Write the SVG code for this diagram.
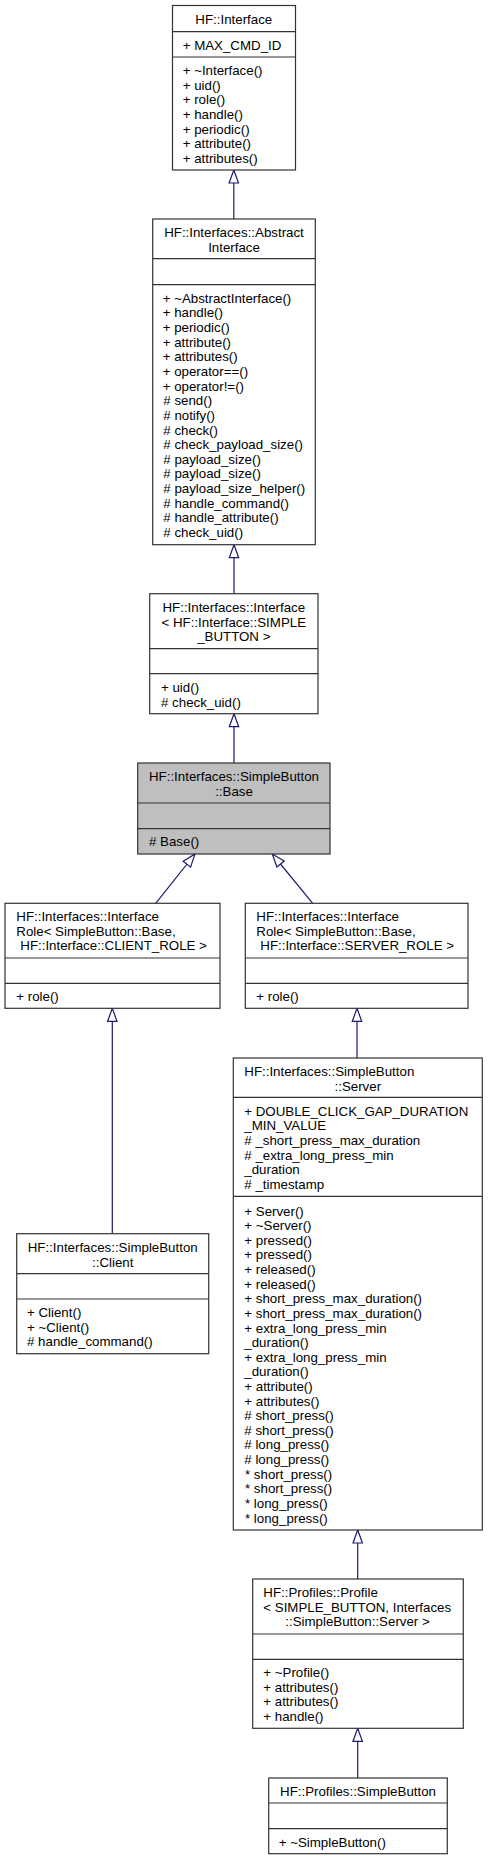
<svg xmlns="http://www.w3.org/2000/svg" width="488" height="1860" viewBox="0 0 488 1860">
<style>
.bg{fill:#ffffff}
.box{fill:#ffffff;stroke:#333333;stroke-width:1.2}
.hl{fill:#bfbfbf;stroke:#333333;stroke-width:1.2}
.sep{stroke:#333333;stroke-width:1.2}
text{font-family:"Liberation Sans",Arial,Helvetica,sans-serif;font-size:13.3px;fill:#000000}
.c{text-anchor:middle}
.edge{fill:none;stroke:#191970;stroke-width:1.2}
</style>
<defs>
<marker id="inh" markerUnits="userSpaceOnUse" markerWidth="15" markerHeight="12" refX="13.5" refY="5.5" orient="auto" viewBox="-0.5 0.3 15 10.4">
<path d="M0.5,0.8 L13.5,5.5 L0.5,10.2 Z" fill="#ffffff" stroke="#191970" stroke-width="1.2"/>
</marker>
</defs>
<rect class="bg" x="0" y="0" width="488" height="1860"/>

<g id="connectors">
<path class="edge" d="M233.8,219 L233.8,170" marker-end="url(#inh)"/>
<path class="edge" d="M234,593.7 L234,544.7" marker-end="url(#inh)"/>
<path class="edge" d="M234,763 L234,713.7" marker-end="url(#inh)"/>
<path class="edge" d="M155.7,903.3 L195,854" marker-end="url(#inh)"/>
<path class="edge" d="M312.7,903.3 L272.3,854" marker-end="url(#inh)"/>
<path class="edge" d="M112.3,1233.7 L112.3,1008.3" marker-end="url(#inh)"/>
<path class="edge" d="M357,1058 L357,1008.3" marker-end="url(#inh)"/>
<path class="edge" d="M357.7,1579 L357.7,1530" marker-end="url(#inh)"/>
<path class="edge" d="M357.7,1778 L357.7,1728.3" marker-end="url(#inh)"/>
</g>

<g id="node-interface">
<rect class="box" x="172.5" y="5.5" width="123" height="164.5"/>
<line class="sep" x1="172.5" y1="31.7" x2="295.5" y2="31.7"/>
<line class="sep" x1="172.5" y1="57" x2="295.5" y2="57"/>
<text class="c" x="233.8" y="23.8">HF::Interface</text>
<text x="182.7" y="49.5">+ MAX_CMD_ID</text>
<text x="182.7" y="75.2">+ ~Interface()</text>
<text x="182.7" y="89.8">+ uid()</text>
<text x="182.7" y="104.4">+ role()</text>
<text x="182.7" y="119">+ handle()</text>
<text x="182.7" y="133.6">+ periodic()</text>
<text x="182.7" y="148.2">+ attribute()</text>
<text x="182.7" y="162.8">+ attributes()</text>
</g>

<g id="node-abstract">
<rect class="box" x="152.7" y="219" width="162.6" height="325.7"/>
<line class="sep" x1="152.7" y1="258.7" x2="315.3" y2="258.7"/>
<line class="sep" x1="152.7" y1="284.7" x2="315.3" y2="284.7"/>
<text class="c" x="234" y="236.8">HF::Interfaces::Abstract</text>
<text class="c" x="234" y="251.6">Interface</text>
<text x="162.7" y="302.8">+ ~AbstractInterface()</text>
<text x="162.7" y="317.4">+ handle()</text>
<text x="162.7" y="332.1">+ periodic()</text>
<text x="162.7" y="346.7">+ attribute()</text>
<text x="162.7" y="361.3">+ attributes()</text>
<text x="162.7" y="376">+ operator==()</text>
<text x="162.7" y="390.6">+ operator!=()</text>
<text x="163.3" y="405.2"># send()</text>
<text x="163.3" y="419.8"># notify()</text>
<text x="163.3" y="434.5"># check()</text>
<text x="163.3" y="449.1"># check_payload_size()</text>
<text x="163.3" y="463.7"># payload_size()</text>
<text x="163.3" y="478.4"># payload_size()</text>
<text x="163.3" y="493"># payload_size_helper()</text>
<text x="163.3" y="507.6"># handle_command()</text>
<text x="163.3" y="522.3"># handle_attribute()</text>
<text x="163.3" y="536.9"># check_uid()</text>
</g>

<g id="node-interface-simple-button">
<rect class="box" x="149.7" y="593.7" width="168.3" height="120"/>
<line class="sep" x1="149.7" y1="648.7" x2="318" y2="648.7"/>
<line class="sep" x1="149.7" y1="673.7" x2="318" y2="673.7"/>
<text class="c" x="233.8" y="612.2">HF::Interfaces::Interface</text>
<text class="c" x="233.8" y="626.8">&lt; HF::Interface::SIMPLE</text>
<text class="c" x="233.8" y="641.4">_BUTTON &gt;</text>
<text x="161" y="692.2">+ uid()</text>
<text x="161" y="706.8"># check_uid()</text>
</g>

<g id="node-base">
<rect class="hl" x="137.7" y="763" width="192.3" height="91"/>
<line class="sep" x1="137.7" y1="803" x2="330" y2="803"/>
<line class="sep" x1="137.7" y1="828.7" x2="330" y2="828.7"/>
<text class="c" x="234" y="781.3">HF::Interfaces::SimpleButton</text>
<text class="c" x="234" y="796">::Base</text>
<text x="149" y="846"># Base()</text>
</g>

<g id="node-client-role">
<rect class="box" x="5" y="903.3" width="215" height="105"/>
<line class="sep" x1="5" y1="958" x2="220" y2="958"/>
<line class="sep" x1="5" y1="983.3" x2="220" y2="983.3"/>
<text x="16.3" y="920.8">HF::Interfaces::Interface</text>
<text x="16.3" y="935.6">Role&lt; SimpleButton::Base,</text>
<text x="20.3" y="950.4">HF::Interface::CLIENT_ROLE &gt;</text>
<text x="16.3" y="1001.2">+ role()</text>
</g>

<g id="node-server-role">
<rect class="box" x="245.3" y="903.3" width="222.7" height="105"/>
<line class="sep" x1="245.3" y1="958" x2="468" y2="958"/>
<line class="sep" x1="245.3" y1="983.3" x2="468" y2="983.3"/>
<text x="256.3" y="920.8">HF::Interfaces::Interface</text>
<text x="256.3" y="935.6">Role&lt; SimpleButton::Base,</text>
<text x="260.3" y="950.4">HF::Interface::SERVER_ROLE &gt;</text>
<text x="256.3" y="1001.2">+ role()</text>
</g>

<g id="node-client">
<rect class="box" x="16.7" y="1233.7" width="192" height="120"/>
<line class="sep" x1="16.7" y1="1273.7" x2="208.7" y2="1273.7"/>
<line class="sep" x1="16.7" y1="1299" x2="208.7" y2="1299"/>
<text class="c" x="112.7" y="1252.2">HF::Interfaces::SimpleButton</text>
<text class="c" x="112.7" y="1266.8">::Client</text>
<text x="27" y="1317.2">+ Client()</text>
<text x="27" y="1331.8">+ ~Client()</text>
<text x="27" y="1346.4"># handle_command()</text>
</g>

<g id="node-server">
<rect class="box" x="233.3" y="1058" width="249" height="472"/>
<line class="sep" x1="233.3" y1="1097.3" x2="482.3" y2="1097.3"/>
<line class="sep" x1="233.3" y1="1196.3" x2="482.3" y2="1196.3"/>
<text x="244.3" y="1076.2">HF::Interfaces::SimpleButton</text>
<text class="c" x="357.8" y="1090.8">::Server</text>
<text x="244.3" y="1115.8">+ DOUBLE_CLICK_GAP_DURATION</text>
<text x="244.3" y="1130.4">_MIN_VALUE</text>
<text x="244.3" y="1145"># _short_press_max_duration</text>
<text x="244.3" y="1159.6"># _extra_long_press_min</text>
<text x="244.3" y="1174.2">_duration</text>
<text x="244.3" y="1188.8"># _timestamp</text>
<text x="244.3" y="1215.5">+ Server()</text>
<text x="244.3" y="1230.1">+ ~Server()</text>
<text x="244.3" y="1244.7">+ pressed()</text>
<text x="244.3" y="1259.4">+ pressed()</text>
<text x="244.3" y="1274">+ released()</text>
<text x="244.3" y="1288.6">+ released()</text>
<text x="244.3" y="1303.2">+ short_press_max_duration()</text>
<text x="244.3" y="1317.8">+ short_press_max_duration()</text>
<text x="244.3" y="1332.5">+ extra_long_press_min</text>
<text x="244.3" y="1347.1">_duration()</text>
<text x="244.3" y="1361.7">+ extra_long_press_min</text>
<text x="244.3" y="1376.3">_duration()</text>
<text x="244.3" y="1390.9">+ attribute()</text>
<text x="244.3" y="1405.6">+ attributes()</text>
<text x="244.3" y="1420.2"># short_press()</text>
<text x="244.3" y="1434.8"># short_press()</text>
<text x="244.3" y="1449.4"># long_press()</text>
<text x="244.3" y="1464"># long_press()</text>
<text x="245" y="1478.7">* short_press()</text>
<text x="245" y="1493.3">* short_press()</text>
<text x="245" y="1507.9">* long_press()</text>
<text x="245" y="1522.5">* long_press()</text>
</g>

<g id="node-profile">
<rect class="box" x="252.7" y="1579" width="210.6" height="149.3"/>
<line class="sep" x1="252.7" y1="1634" x2="463.3" y2="1634"/>
<line class="sep" x1="252.7" y1="1659.3" x2="463.3" y2="1659.3"/>
<text x="263.3" y="1596.8">HF::Profiles::Profile</text>
<text x="263.3" y="1611.6">&lt; SIMPLE_BUTTON, Interfaces</text>
<text class="c" x="357.5" y="1626.4">::SimpleButton::Server &gt;</text>
<text x="263.3" y="1677.2">+ ~Profile()</text>
<text x="263.3" y="1691.8">+ attributes()</text>
<text x="263.3" y="1706.4">+ attributes()</text>
<text x="263.3" y="1721">+ handle()</text>
</g>

<g id="node-simple-button">
<rect class="box" x="268.7" y="1778" width="178.6" height="75.7"/>
<line class="sep" x1="268.7" y1="1803" x2="447.3" y2="1803"/>
<line class="sep" x1="268.7" y1="1828.7" x2="447.3" y2="1828.7"/>
<text class="c" x="358" y="1795.8">HF::Profiles::SimpleButton</text>
<text x="278.7" y="1846.8">+ ~SimpleButton()</text>
</g>
</svg>
